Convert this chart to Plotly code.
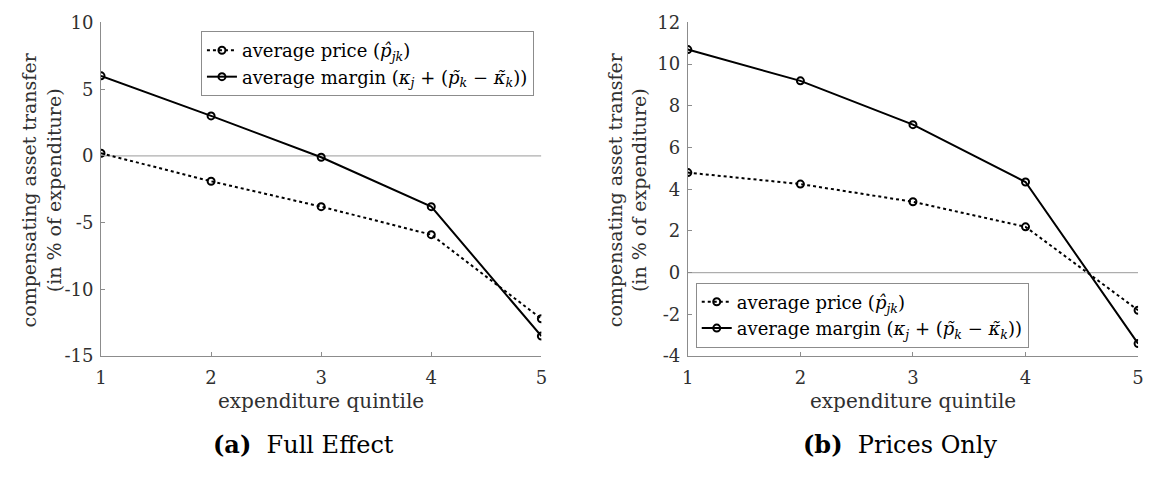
import plotly.graph_objects as go

quintiles = [1, 2, 3, 4, 5]
full_price = [0.2, -1.9, -3.8, -5.9, -12.2]
full_margin = [6.0, 3.0, -0.1, -3.8, -13.5]
prices_price = [4.8, 4.25, 3.4, 2.2, -1.8]
prices_margin = [10.7, 9.2, 7.1, 4.35, -3.4]

left_yticks = [10, 5, 0, -5, -10, -15]
right_yticks = [12, 10, 8, 6, 4, 2, 0, -2, -4]
xticks = [1, 2, 3, 4, 5]

name_price = "average price (<i>p̂</i><sub><i>jk</i></sub>)"
name_margin = "average margin (<i>κ</i><sub><i>j</i></sub> + (<i>p̃</i><sub><i>k</i></sub> − <i>κ̃</i><sub><i>k</i></sub>))"

FONT = "DejaVu Serif"
W, H = 1152, 477

fig = go.Figure()

def add_pair(xa, ya, price, margin, legend):
    fig.add_trace(go.Scatter(x=quintiles, y=price, mode="lines+markers", name=name_price,
                             xaxis=xa, yaxis=ya, legend=legend,
                             line=dict(color="black", width=2, dash="dot"),
                             marker=dict(symbol="circle-open", size=7, color="black", line=dict(width=2))))
    fig.add_trace(go.Scatter(x=quintiles, y=margin, mode="lines+markers", name=name_margin,
                             xaxis=xa, yaxis=ya, legend=legend,
                             line=dict(color="black", width=2),
                             marker=dict(symbol="circle-open", size=7, color="black", line=dict(width=2))))

add_pair("x", "y", full_price, full_margin, "legend")
add_pair("x2", "y2", prices_price, prices_margin, "legend2")

def px_x(p):
    return p / W

def px_y(p):
    return 1 - p / H

ydom = [px_y(361), px_y(12)]
axis_common = dict(showline=True, linecolor="#8c8c8c", linewidth=1, ticks="inside", ticklen=4,
                   tickcolor="#8c8c8c", showgrid=False, zeroline=False,
                   tickfont=dict(family=FONT, size=18, color="#303030"), mirror=False)

leg_common = dict(xanchor="left", bgcolor="white", bordercolor="#8c8c8c", borderwidth=1,
                  font=dict(family=FONT, size=18, color="black"), tracegroupgap=0, itemwidth=30)

fig.update_layout(
    width=W, height=H, margin=dict(l=0, r=0, t=0, b=0),
    paper_bgcolor="white", plot_bgcolor="white",
    font=dict(family=FONT, color="#303030"),
    xaxis=dict(domain=[px_x(96), px_x(541)], range=[1, 5], tickvals=xticks, anchor="y",
               ticklabelstandoff=5, **axis_common),
    yaxis=dict(domain=ydom, range=[-15, 10], tickvals=left_yticks,
               ticktext=[str(v) for v in left_yticks], anchor="x", ticklabelstandoff=3, **axis_common),
    xaxis2=dict(domain=[px_x(689), px_x(1144)], range=[1, 5], tickvals=xticks, anchor="y2",
                ticklabelstandoff=5, **axis_common),
    yaxis2=dict(domain=ydom, range=[-4, 12], tickvals=right_yticks,
                ticktext=[str(v) for v in right_yticks], anchor="x2", ticklabelstandoff=3, **axis_common),
    legend=dict(x=px_x(197), y=px_y(21), yanchor="top", **leg_common),
    legend2=dict(x=px_x(697), y=px_y(352), yanchor="bottom", **leg_common),
)

# zero reference lines
for xr, yr in [("x", "y"), ("x2", "y2")]:
    fig.add_shape(type="line", xref=xr, yref=yr, x0=1, x1=5, y0=0, y1=0,
                  line=dict(color="#9a9a9a", width=1), layer="below")

ann = []
for cx, ylab_x, cap_x, cap in [((96 + 541) / 2, 36, 301, "<b>(a)</b>  Full Effect"),
                               ((689 + 1144) / 2, 628, 903, "<b>(b)</b>  Prices Only")]:
    ann.append(dict(x=px_x(cx), y=px_y(408), xref="paper", yref="paper", text="expenditure quintile",
                    showarrow=False, font=dict(family=FONT, size=20, color="#303030"),
                    xanchor="center", yanchor="middle"))
    ann.append(dict(x=px_x(cap_x), y=px_y(453), xref="paper", yref="paper", text=cap,
                    showarrow=False, font=dict(family=FONT, size=24, color="black"),
                    xanchor="center", yanchor="middle"))
    ann.append(dict(x=px_x(ylab_x), y=px_y(187), xref="paper", yref="paper",
                    text="compensating asset transfer<br>(in % of expenditure)",
                    showarrow=False, textangle=-90, font=dict(family=FONT, size=19, color="#303030"),
                    xanchor="center", yanchor="middle"))
fig.update_layout(annotations=ann)

fig.write_html("out.html", config={"displayModeBar": False},
               post_script="document.body.style.margin='0';")
